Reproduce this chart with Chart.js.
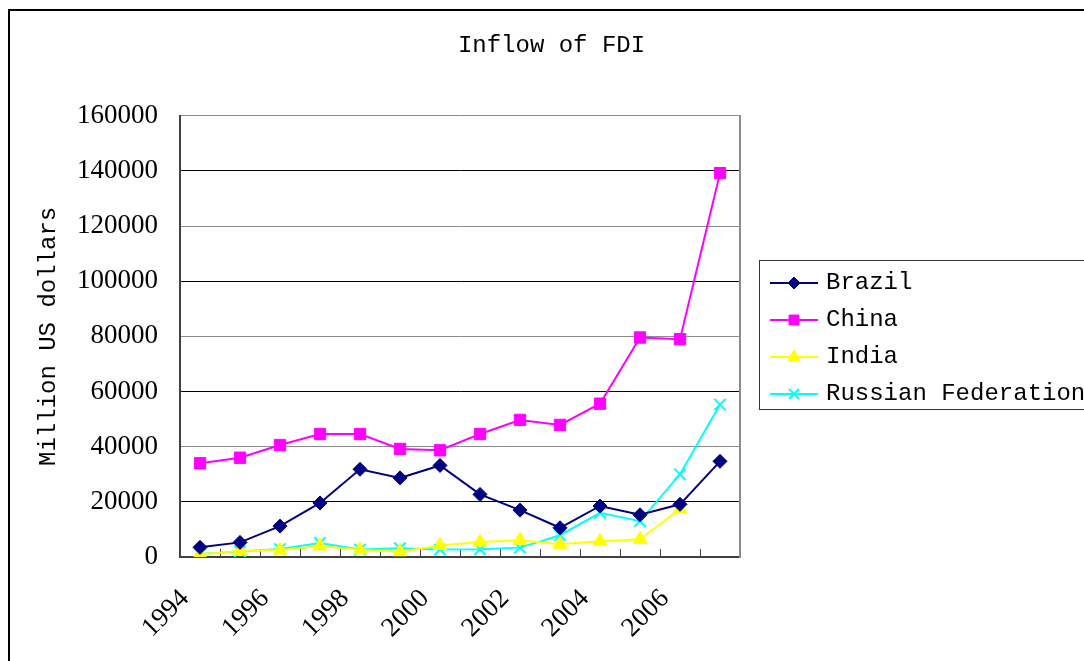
<!DOCTYPE html>
<html>
<head>
<meta charset="utf-8">
<title>Inflow of FDI</title>
<script src="https://cdn.jsdelivr.net/npm/chart.js@4.4.1/dist/chart.umd.min.js"></script>
<style>
  html, body { margin: 0; padding: 0; background: #fff; }
  #wrap { width: 1084px; height: 661px; position: relative; }
</style>
</head>
<body>
<div id="wrap"><canvas id="fdi" width="1084" height="661"></canvas></div>
<script>
// Inward foreign direct investment, million US dollars
const years = ['1994', '1995', '1996', '1997', '1998', '1999', '2000',
               '2001', '2002', '2003', '2004', '2005', '2006', '2007'];
const brazil = [3500, 5300, 11200, 19600, 31800, 28700, 33200, 22700, 17000, 10600, 18500, 15300, 19100, 34700];
const china = [34000, 36000, 40600, 44600, 44600, 39200, 38700, 44600, 49700, 47900, 55600, 79600, 79000, 139200];
const india = [1000, 2200, 2500, 4000, 2600, 1900, 4200, 5400, 6100, 4600, 5700, 6400, 17400, null];
const russia = [1100, 2000, 2900, 5100, 2700, 3200, 2700, 2800, 3400, 7900, 16000, 13000, 30000, 55300];
const yTicks = [0, 20000, 40000, 60000, 80000, 100000, 120000, 140000, 160000];

const monoFont = 'Liberation Mono, DejaVu Sans Mono, monospace';
const serifFont = 'Liberation Serif, DejaVu Serif, serif';

function series(label, values, color, pointStyle, radius, legendRadius) {
  return {
    label: label,
    data: values,
    borderColor: color,
    backgroundColor: color,
    borderWidth: 2,
    tension: 0,
    pointStyle: pointStyle,
    pointRadius: radius,
    pointHoverRadius: radius,
    pointBackgroundColor: color,
    pointBorderColor: color,
    pointBorderWidth: pointStyle === 'crossRot' ? 2 : 1,
    legendRadius: legendRadius
  };
}

const datasets = [
  series('Brazil', brazil, '#000080', 'rectRot', 7, 6),
  series('China', china, '#FF00FF', 'rect', 8, 7),
  series('India', india, '#FFFF00', 'triangle', 8, 7),
  series('Russian Federation', russia, '#00FFFF', 'crossRot', 8, 7)
];

// legend swatch: a short line with the series marker in its middle
function legendSwatch(ds) {
  const cv = document.createElement('canvas');
  cv.width = 48; cv.height = 18;
  const g = cv.getContext('2d');
  g.strokeStyle = ds.borderColor;
  g.lineWidth = 2;
  g.beginPath(); g.moveTo(0, 9); g.lineTo(48, 9); g.stroke();
  g.fillStyle = ds.pointBackgroundColor;
  g.strokeStyle = ds.pointBorderColor;
  g.lineWidth = ds.pointBorderWidth;
  Chart.helpers.drawPoint(g, {
    pointStyle: ds.pointStyle, radius: ds.legendRadius, rotation: 0, borderWidth: ds.pointBorderWidth
  }, 24, 9);
  return cv;
}
const swatches = datasets.map(legendSwatch);

// white page with the framing border
const frame = {
  id: 'frame',
  beforeDraw(chart) {
    const c = chart.ctx;
    c.save();
    c.fillStyle = '#fff';
    c.fillRect(0, 0, chart.width, chart.height);
    c.strokeStyle = '#000';
    c.lineWidth = 2;
    c.strokeRect(9, 10, chart.width + 50, chart.height + 50);
    c.restore();
  }
};

// place the legend to the right of the plot and box it
const legendBox = {
  id: 'legendBox',
  afterLayout(chart) {
    const lg = chart.legend;
    if (!lg) return;
    lg.left = 761; lg.top = 258;
    lg.width = 400; lg.height = 200;
    lg.right = lg.left + lg.width; lg.bottom = lg.top + lg.height;
  },
  afterDraw(chart) {
    const c = chart.ctx;
    c.save();
    c.strokeStyle = '#333';
    c.lineWidth = 1;
    c.strokeRect(759.5, 260.5, 400, 149);
    c.restore();
  }
};

new Chart(document.getElementById('fdi'), {
  type: 'line',
  data: { labels: years, datasets: datasets },
  options: {
    responsive: false,
    animation: false,
    devicePixelRatio: 1,
    layout: { padding: { left: 19, right: 0, top: 0, bottom: 0 } },
    plugins: {
      title: {
        display: true,
        text: 'Inflow of FDI',
        color: '#000',
        font: { family: monoFont, size: 24, weight: 'normal' },
        padding: { top: 31, bottom: 56 }
      },
      legend: {
        display: true,
        position: 'chartArea',
        align: 'start',
        labels: {
          color: '#000',
          font: { family: monoFont, size: 24 },
          usePointStyle: true,
          pointStyleWidth: 40,
          padding: 13,
          generateLabels(chart) {
            return chart.data.datasets.map((ds, i) => ({
              text: ds.label,
              pointStyle: swatches[i],
              fillStyle: ds.borderColor,
              strokeStyle: ds.borderColor,
              lineWidth: 0,
              hidden: false,
              datasetIndex: i,
              fontColor: '#000'
            }));
          }
        }
      },
      tooltip: { enabled: false }
    },
    scales: {
      x: {
        offset: true,
        grid: {
          offset: true,
          drawOnChartArea: false,
          drawTicks: true,
          tickLength: -8,
          color: '#404040',
          lineWidth: 1
        },
        border: { display: true, color: '#404040', width: 2 },
        ticks: {
          autoSkip: false,
          minRotation: 45,
          maxRotation: 45,
          labelOffset: -15,
          padding: 34,
          color: '#000',
          font: { family: serifFont, size: 27 },
          callback(value, index) { return index % 2 === 0 ? years[index] : ''; }
        },
        afterFit(scale) { scale.height = 104; }
      },
      y: {
        min: yTicks[0],
        max: yTicks[yTicks.length - 1],
        grid: {
          drawTicks: false,
          color: (ctx) => (ctx.index % 2 === 1 ? '#000' : '#8c8c8c'),
          lineWidth: 1
        },
        border: { display: true, color: '#404040', width: 2 },
        ticks: {
          stepSize: yTicks[1] - yTicks[0],
          padding: 22,
          color: '#000',
          font: { family: serifFont, size: 27 },
          callback(value) { return String(value); }
        },
        title: {
          display: true,
          text: 'Million US dollars',
          color: '#000',
          font: { family: monoFont, size: 24 },
          padding: { top: 15, bottom: 0 }
        },
        afterFit(scale) { scale.width = 161; }
      },
      yRight: {
        position: 'right',
        display: true,
        grid: { display: false, drawTicks: false },
        ticks: { display: false },
        border: { display: true, color: '#8c8c8c', width: 2 },
        afterFit(scale) { scale.width = 344; }
      }
    }
  },
  plugins: [frame, legendBox]
});
</script>
</body>
</html>
